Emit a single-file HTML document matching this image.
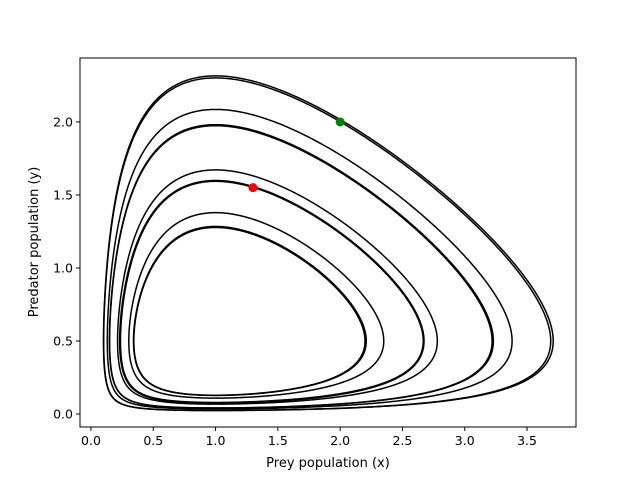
<!DOCTYPE html>
<html><head><meta charset="utf-8"><style>
body{margin:0;background:#fff;}
svg{display:block;font-family:"DejaVu Sans","Liberation Sans",sans-serif;}
</style></head><body>
<svg id="c" width="640" height="480">
<rect x="0" y="0" width="640" height="480" fill="#fff"/>
<g id="orbits"></g>
<g id="pts"></g>
<rect x="80" y="58" width="496" height="369" fill="none" stroke="#000" stroke-width="1"/>
<g id="xt"></g>
<g id="yt"></g>
<text x="328" y="467" font-size="13" text-anchor="middle">Prey population (x)</text>
<text transform="translate(38,242) rotate(-90)" font-size="13" text-anchor="middle">Predator population (y)</text>
</svg>
<script>
// Lotka-Volterra parameters
const alpha = 2/3, beta = 4/3, gamma = 1, delta = 1;
// orbits identified by their right-most x (at y = alpha/beta)
const orbitRightX = [2.2, 2.21, 2.35, 2.67, 2.78, 3.22, 3.23, 3.38, 3.69, 3.71];
const orbitWidths = [1.6, 1.4, 1.5, 2.3, 1.5, 1.6, 1.4, 1.5, 1.5, 1.5];
const markerX = [2.0, 1.3];
const markerY = [2.0, 1.55];
const markerColors = ['green', 'red'];
const xTicks = [0, 0.5, 1, 1.5, 2, 2.5, 3, 3.5];
const yTicks = [0, 0.5, 1, 1.5, 2];

const NS = 'http://www.w3.org/2000/svg';
const X0 = -0.088, X1 = 3.893, Y0 = -0.089, Y1 = 2.438;
const L = 80, R = 576, T = 58, B = 427;
const sx = v => L + (v - X0) / (X1 - X0) * (R - L);
const sy = v => B - (v - Y0) / (Y1 - Y0) * (B - T);
const V = (x, y) => delta * x - gamma * Math.log(x) + beta * y - alpha * Math.log(y);
const ex = gamma / delta, ey = alpha / beta;

const og = document.getElementById('orbits');
orbitRightX.forEach((xr, i) => {
  const lvl = V(xr, ey);
  const u0 = Math.log(ex), w0 = Math.log(ey);
  let d = '';
  const N = 900;
  for (let k = 0; k <= N; k++) {
    const a = k / N * 2 * Math.PI;
    const cu = Math.cos(a), cw = Math.sin(a);
    let lo = 0, hi = 8;
    for (let j = 0; j < 50; j++) {
      const m = (lo + hi) / 2;
      if (V(Math.exp(u0 + cu * m), Math.exp(w0 + cw * m)) > lvl) hi = m; else lo = m;
    }
    const x = Math.exp(u0 + cu * lo), y = Math.exp(w0 + cw * lo);
    d += (k ? 'L' : 'M') + sx(x).toFixed(2) + ',' + sy(y).toFixed(2);
  }
  const p = document.createElementNS(NS, 'path');
  p.setAttribute('d', d + 'Z');
  p.setAttribute('fill', 'none');
  p.setAttribute('stroke', '#000');
  p.setAttribute('stroke-width', orbitWidths[i]);
  
  
  og.appendChild(p);
});

const pg = document.getElementById('pts');
markerX.forEach((x, i) => {
  const c = document.createElementNS(NS, 'circle');
  c.setAttribute('cx', sx(x)); c.setAttribute('cy', sy(markerY[i]));
  c.setAttribute('r', 4.5); c.setAttribute('fill', markerColors[i]);
  
  
  pg.appendChild(c);
});

const xt = document.getElementById('xt');
xTicks.forEach(v => {
  const l = document.createElementNS(NS, 'line');
  l.setAttribute('x1', sx(v)); l.setAttribute('x2', sx(v));
  l.setAttribute('y1', B); l.setAttribute('y2', B + 4); l.setAttribute('stroke', '#000');
  
  
  xt.appendChild(l);
  const t = document.createElementNS(NS, 'text');
  t.setAttribute('x', sx(v)); t.setAttribute('y', B + 18);
  t.setAttribute('font-size', '12.5'); t.setAttribute('text-anchor', 'middle');
  t.textContent = v.toFixed(1);
  
  
  xt.appendChild(t);
});
const yt = document.getElementById('yt');
yTicks.forEach(v => {
  const l = document.createElementNS(NS, 'line');
  l.setAttribute('x1', L - 4); l.setAttribute('x2', L);
  l.setAttribute('y1', sy(v)); l.setAttribute('y2', sy(v)); l.setAttribute('stroke', '#000');
  
  
  yt.appendChild(l);
  const t = document.createElementNS(NS, 'text');
  t.setAttribute('x', L - 7); t.setAttribute('y', sy(v) + 4.5);
  t.setAttribute('font-size', '12.5'); t.setAttribute('text-anchor', 'end');
  t.textContent = v.toFixed(1);
  
  
  yt.appendChild(t);
});
</script>
</body></html>
